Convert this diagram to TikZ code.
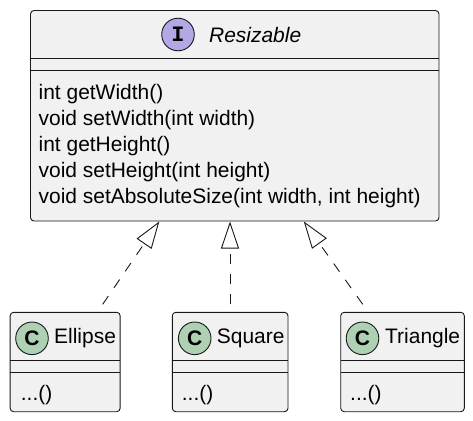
\documentclass[tikz,border=0pt]{standalone}
\usepackage{fontspec}
\setmainfont{Liberation Sans}
\newfontfamily\badgemono{Liberation Mono}
\usetikzlibrary{arrows.meta}
\definecolor{boxfill}{HTML}{F1F1F1}
\definecolor{boxline}{HTML}{181818}
\definecolor{ifill}{HTML}{B4A7E5}
\definecolor{cfill}{HTML}{ADD1B2}
\begin{document}
\begin{tikzpicture}[x=1pt,y=-1pt,
  umlbox/.style={rectangle, draw=boxline, fill=boxfill, line width=0.9pt, rounded corners=3.5pt, inner sep=0pt},
  sepline/.style={draw=boxline, line width=0.9pt},
  txt/.style={anchor=base west, inner sep=0pt, font=\fontsize{20.95}{24}\selectfont},
  badge/.style={circle, draw=boxline, line width=0.9pt, minimum size=32.6pt, inner sep=0pt},
  realize/.style={draw=boxline, line width=0.9pt, dash pattern=on 10pt off 10pt,
    -{Triangle[open, length=27pt, width=18pt, line width=0.9pt]}}
]
\useasboundingbox (0,0) rectangle (473,420);
\fill[white] (0,0) rectangle (473,420);

% Interface Resizable
\node[umlbox, minimum width=408.5pt, minimum height=210.5pt] (res) at (234.75,115.75) {};
\draw[sepline] (30.5,58) -- (439,58);
\draw[sepline] (30.5,70) -- (439,70);
\node[badge, fill=ifill, font=\fontsize{22}{22}\selectfont\badgemono\bfseries] (resI) at (178,34.5) {I};
\node[txt, font=\fontsize{20.95}{24}\selectfont\itshape] (resT) at (209,42) {Resizable};
\node[txt] (m1) at (38.5,99.5) {int getWidth()};
\node[txt] (m2) at (38.5,125.5) {void setWidth(int width)};
\node[txt] (m3) at (38.5,151.5) {int getHeight()};
\node[txt] (m4) at (38.5,177.5) {void setHeight(int height)};
\node[txt] (m5) at (38.5,203.5) {void setAbsoluteSize(int width, int height)};

% Ellipse
\node[umlbox, minimum width=110pt, minimum height=99.4pt] (ell) at (65.15,362) {};
\draw[sepline] (10.3,360.7) -- (120,360.7);
\draw[sepline] (10.3,372.3) -- (120,372.3);
\node[badge, fill=cfill, font=\fontsize{21}{21}\selectfont\bfseries] (ellC) at (32,338.3) {C};
\node[txt] (ellT) at (54,343.5) {Ellipse};
\node[txt] (ellM) at (20.7,400.5) {...()};

% Square
\node[umlbox, minimum width=115.7pt, minimum height=99.4pt] (sq) at (230.15,362) {};
\draw[sepline] (172.3,360.7) -- (288,360.7);
\draw[sepline] (172.3,372.3) -- (288,372.3);
\node[badge, fill=cfill, font=\fontsize{21}{21}\selectfont\bfseries] (sqC) at (194.7,338.3) {C};
\node[txt] (sqT) at (216.7,343.5) {Square};
\node[txt] (sqM) at (181.7,400.5) {...()};

% Triangle
\node[umlbox, minimum width=123.6pt, minimum height=99.4pt] (tri) at (402.5,362) {};
\draw[sepline] (340.7,360.7) -- (464.3,360.7);
\draw[sepline] (340.7,372.3) -- (464.3,372.3);
\node[badge, fill=cfill, font=\fontsize{21}{21}\selectfont\bfseries] (triC) at (362.5,338.3) {C};
\node[txt] (triT) at (385,343.5) {Triangle};
\node[txt] (triM) at (350,400.5) {...()};

% connectors
\coordinate (ellTail) at (102.7,304.3);
\coordinate (ellTip) at (159.3,221.5);
\coordinate (sqTail) at (230,304.3);
\coordinate (sqTip) at (230,221.5);
\coordinate (triTail) at (362.7,304.3);
\coordinate (triTip) at (303.8,221.5);
\draw[realize] (ellTail) -- (ellTip);
\draw[realize] (sqTail) -- (sqTip);
\draw[realize] (triTail) -- (triTip);
\end{tikzpicture}
\end{document}
